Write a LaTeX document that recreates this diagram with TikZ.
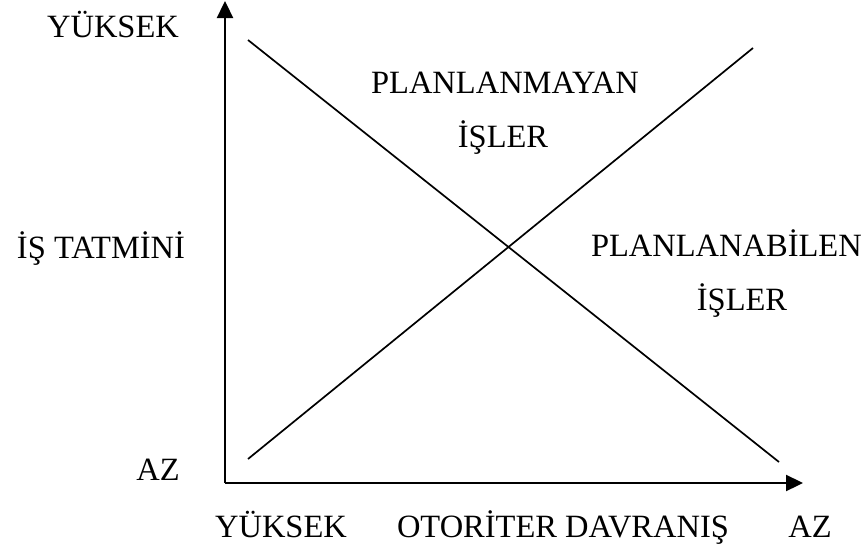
\documentclass[tikz,border=0pt]{standalone}
\usepackage{fontspec}
\setmainfont{Liberation Serif}
\usetikzlibrary{arrows.meta}
\begin{document}
\begin{tikzpicture}[x=1pt,y=-1pt,
  lbl/.style={inner sep=0pt,anchor=base,font=\fontsize{32.5}{38}\selectfont},
  axis/.style={line width=2.3pt,-{Triangle[length=17pt,width=16pt]}},
  ln/.style={line width=1.7pt}]
\useasboundingbox (0,0) rectangle (862,546);
\coordinate (o) at (225,483);
\coordinate (ytop) at (225,1);
\coordinate (xend) at (803,483);
\draw[axis] (o) -- (ytop);
\draw[axis] (o) -- (xend);
\coordinate (a1) at (248,40);
\coordinate (a2) at (779,462);
\coordinate (b1) at (248,459);
\coordinate (b2) at (753,48);
\draw[ln] (a1) -- (a2);
\draw[ln] (b1) -- (b2);
\node[lbl] (yy) at (113,37) {YÜKSEK};
\node[lbl] (yt) at (101,258) {İŞ TATMİNİ};
\node[lbl] (ya) at (158,480) {AZ};
\node[lbl] (xy) at (281,537) {YÜKSEK};
\node[lbl] (xo) at (563,537) {OTORİTER DAVRANIŞ};
\node[lbl] (xa) at (810,537) {AZ};
\node[lbl] (p1) at (505,93) {PLANLANMAYAN};
\node[lbl] (p2) at (503,147) {İŞLER};
\node[lbl,anchor=base east] (q1) at (862,256) {PLANLANABİLEN};
\node[lbl] (q2) at (742,310) {İŞLER};
\end{tikzpicture}
\end{document}
